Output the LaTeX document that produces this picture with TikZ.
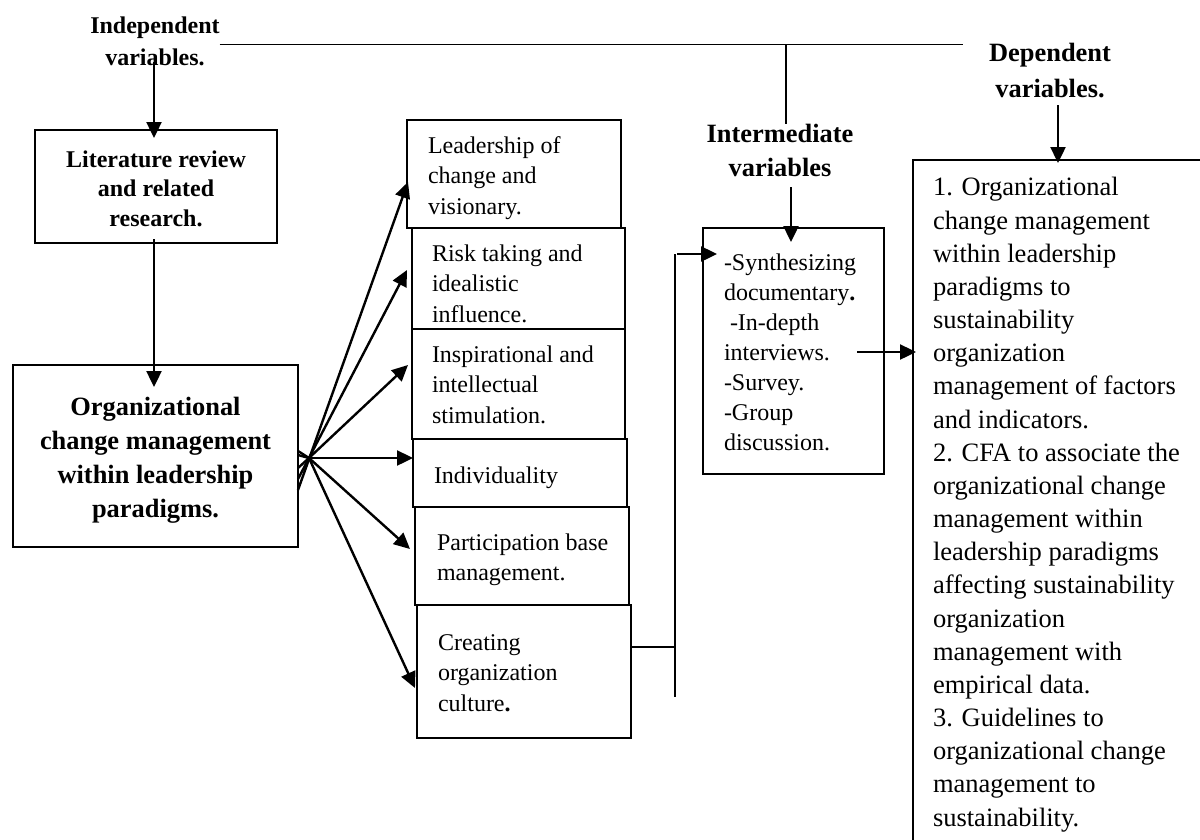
\documentclass[tikz,border=0pt]{standalone}
\usepackage{fontspec}
\setmainfont{Liberation Serif}
\usetikzlibrary{arrows.meta,calc,fit}
\begin{document}
\begin{tikzpicture}[x=1pt,y=-1pt,
  box/.style={draw, line width=2.7pt, inner sep=0pt, outer sep=0pt},
  midbox/.style={box, line width=2.4pt},
  arr/.style={line width=2.4pt, -{Triangle[length=16pt,width=15pt]}},
  thinline/.style={line width=1.2pt},
  txt/.style={inner sep=0pt, outer sep=0pt, align=left, anchor=base west, font=\fontsize{24}{30.5}\selectfont},
  deptxt/.style={txt, font=\fontsize{26.5}{33.16}\selectfont},
  lbl/.style={inner sep=0pt, outer sep=0pt, align=center, anchor=base, font=\bfseries\fontsize{24}{32}\selectfont},
  biglbl/.style={lbl, font=\bfseries\fontsize{26.4}{34}\selectfont}
]
\useasboundingbox[fill=white] (0,0) rectangle (1200,839);
\clip (0,0) rectangle (1200,839);

% labels (anchor = baseline of the last line)
\node[lbl] (indep) at (155,65) {Independent\\variables.};
\node[biglbl] (inter) at (780,176) {Intermediate\\variables};
\node[biglbl, font=\bfseries\fontsize{26.4}{36}\selectfont] (dep) at (1050,97) {Dependent\\variables.};

% left boxes
\node[box, fit={(35,130) (277,243)}] (lit) {};
\node[lbl, font=\bfseries\fontsize{24}{29.5}\selectfont] (litT) at (156,226) {Literature review\\and related\\research.};
\node[box, fit={(13,365) (298,547)}] (org) {};
\node[biglbl] (orgT) at (155.5,517) {Organizational\\change management\\within leadership\\paradigms.};

% middle boxes
\node[midbox, fit={(407,120) (621,228)}] (lead) {};
\node[txt] (leadT) at (428,214) {Leadership of\\change and\\visionary.};
\node[midbox, fit={(412,228) (625,329)}] (risk) {};
\node[txt] (riskT) at (432,322) {Risk taking and\\idealistic\\influence.};
\node[midbox, fit={(412,329) (625,439)}] (insp) {};
\node[txt] (inspT) at (432,423) {Inspirational and\\intellectual\\stimulation.};
\node[midbox, fit={(413,439) (627,507)}] (indiv) {};
\node[txt] (indivT) at (434,483) {Individuality};
\node[midbox, fit={(415,507) (629,605)}] (part) {};
\node[txt] (partT) at (437,580.5) {Participation base\\management.};
\node[midbox, fit={(417,605) (631,738)}] (creat) {};
\node[txt] (creatT) at (438,711) {Creating\\organization\\culture\textbf{.}};

% intermediate box
\node[box, fit={(703,228) (884,474)}] (interbox) {};
\node[txt, font=\fontsize{24}{30}\selectfont] (interT) at (724,450) {-Synthesizing\\documentary\textbf{.}\\\hspace{6pt}-In-depth\\interviews.\\-Survey.\\-Group\\discussion.};

% dependent box (runs off the page)
\node[box, fit={(913,160) (1230,870)}] (depbox) {};
\node[deptxt] (depT) at (933,826) {1. Organizational\\change management\\within leadership\\paradigms to\\sustainability\\organization\\management of factors\\and indicators.\\2. CFA to associate the\\organizational change\\management within\\leadership paradigms\\affecting sustainability\\organization\\management with\\empirical data.\\3. Guidelines to\\organizational change\\management to\\sustainability.};

% top line
\coordinate (tl) at ($(indep.east)+(0,4)$);
\coordinate (tr) at ($(tl -| dep.west)+(-26,0)$);
\draw[thinline] (tl) -- (tr);
\draw[thinline] ($(inter.north |- tl)+(6,0)$) -- ($(inter.north)+(6,0)$);

% vertical arrows
\draw[arr] ($(lit.north)+(-2,-68)$) -- ($(lit.north)+(-2,8)$);
\draw[arr] ($(lit.south)+(-2,-4)$) -- ($(org.north)+(-1.5,22)$);
\draw[arr] ($(interbox.north)+(-2.5,-41)$) -- ($(interbox.north)+(-2.5,14)$);
\draw[arr] ($(depbox.north west)+(145,-55)$) -- ($(depbox.north west)+(145,3)$);

% fan
\coordinate (fan) at ($(org.east)+(11,2)$);
\draw[arr] ($(org.east)+(0,34)$) -- ($(lead.west)+(1,8)$);
\draw[arr] ($(org.east)+(0,23)$) -- ($(risk.west)+(-5,-8.5)$);
\draw[arr] ($(org.east)+(0,-1)$) -- (fan) -- ($(insp.west)+(-4,-19)$);
\draw[arr] (fan) -- ($(indiv.west)+(0,-15)$);
\draw[arr] ($(org.east)+(0,-5)$) -- (fan) -- ($(part.west)+(-5,-7)$);
\draw[arr] ($(org.east)+(0,12)$) -- (fan) -- ($(creat.west)+(-2,16.5)$);

% connector from creating box to intermediate box
\coordinate (busT) at ($(creat.east |- interbox.north)+(44,26)$);
\coordinate (busB) at ($(creat.east)+(44,25.5)$);
\draw[thinline] ($(creat.east)+(0,-24.5)$) -- ($(creat.east)+(44,-24.5)$);
\draw[thinline] (busT) -- (busB);
\draw[arr] ($(busT)+(2,0)$) -- ($(interbox.north west)+(14,26)$);

% intermediate to dependent
\draw[arr] ($(interbox.east)+(-27,1)$) -- ($(depbox.west |- interbox.east)+(3,1)$);
\end{tikzpicture}
\end{document}
